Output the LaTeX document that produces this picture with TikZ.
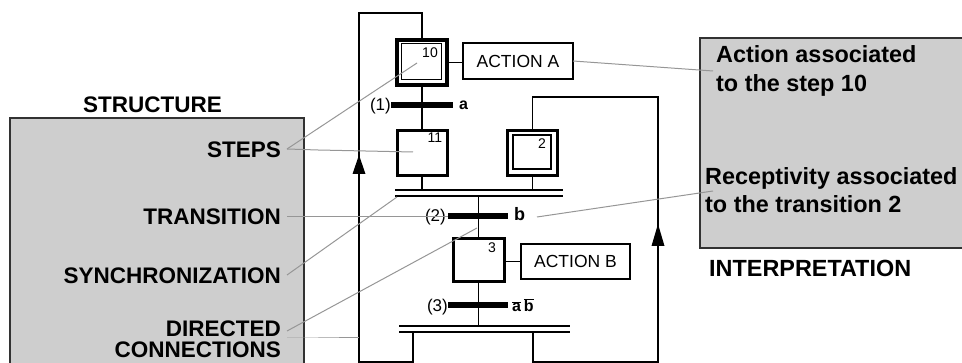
\documentclass[tikz,border=0pt]{standalone}
\usepackage{fontspec}
\setmainfont{Liberation Sans}
\definecolor{boxgray}{RGB}{206,206,206}
\definecolor{leadgray}{RGB}{150,150,150}
\definecolor{edgegray}{RGB}{50,50,50}
\begin{document}
\begin{tikzpicture}[x=1pt,y=-1pt,
  stepbox/.style={draw, line width=3pt, inner sep=0pt, outer sep=0pt, minimum width=50pt, minimum height=45pt},
  innerbox/.style={draw, line width=1.3pt, inner sep=0pt, outer sep=0pt},
  actbox/.style={draw, line width=1.3pt, inner sep=0pt, outer sep=0pt, font=\fontsize{17.5}{17.5}\selectfont},
  trbar/.style={fill=black, inner sep=0pt, outer sep=0pt, minimum width=62pt, minimum height=6pt},
  link/.style={line width=1.4pt},
  leader/.style={draw=leadgray, line width=1pt},
  biglabel/.style={font=\fontsize{22.5}{24}\selectfont\bfseries, inner sep=0pt, anchor=base east},
  rlabel/.style={font=\fontsize{23.4}{24}\selectfont\bfseries, inner sep=0pt, anchor=base west},
  numlabel/.style={font=\fontsize{14}{14}\selectfont, inner sep=0pt, anchor=base},
  trlabel/.style={font=\fontsize{17}{17}\selectfont, inner sep=0pt},
  arrowtri/.style={fill=black}
]
\useasboundingbox (0,0) rectangle (962,363);

% gray panels
\fill[boxgray] (10,118) rectangle (304,366);
\draw[edgegray, line width=1.3pt] (10,366) -- (10,118) -- (304,118) -- (304,366);
\fill[boxgray] (700,38) rectangle (966,248);
\draw[edgegray, line width=1.3pt] (966,38) -- (700,38) -- (700,248) -- (966,248);

% steps
\node[stepbox, line width=4pt] (s10) at (422,62.5) {};
\node[innerbox, minimum width=40pt, minimum height=36pt] (s10i) at (421.5,61.5) {};
\node[numlabel] (n10) at (430,58) {10};
\node[stepbox] (s11) at (422,153) {};
\node[numlabel] (n11) at (435,143) {11};
\node[stepbox] (s2) at (532.5,153) {};
\node[innerbox, minimum width=38pt, minimum height=34pt] (s2i) at (532,152) {};
\node[numlabel] (n2) at (542,149) {2};
\node[stepbox, minimum width=51pt, minimum height=43pt] (s3) at (478.5,260) {};
\node[numlabel] (n3) at (492,253) {3};

% actions
\node[actbox, minimum width=110pt, minimum height=36pt] (actA) at (518,61) {ACTION A};
\node[actbox, minimum width=109pt, minimum height=35pt] (actB) at (575.5,261.5) {ACTION B};
\draw[link] (s10.east) -- (s10.east -| actA.west);
\draw[link] (s3.east |- actB.west) -- (actB.west);

% transitions
\node[trbar] (t1) at (422,105) {};
\node[trbar, minimum width=60pt] (t2) at (478,216) {};
\node[trbar, minimum width=60pt] (t3) at (478,305) {};
\node[trlabel, anchor=east] (l1) at (391,106) {(1)};
\node[trlabel, anchor=west, font=\fontsize{16}{16}\selectfont\bfseries] (la) at (459,105) {a};
\node[trlabel, anchor=east] (l2) at (446,217) {(2)};
\node[trlabel, anchor=west, font=\fontsize{18}{18}\selectfont\bfseries] (lb) at (514,214) {b};
\node[trlabel, anchor=east] (l3) at (448,307) {(3)};
\node[trlabel, anchor=west, font=\fontsize{16}{16}\selectfont\bfseries] (lab) at (512,305) {$\overline{\mbox{a}}\,\overline{\mbox{b}}$};

% synchronisation double lines
\coordinate (syncUL) at (395,190);
\coordinate (syncUR) at (563,190);
\coordinate (syncDL) at (395,196);
\coordinate (syncDR) at (563,196);
\coordinate (syncLUL) at (399,326);
\coordinate (syncLUR) at (570,326);
\coordinate (syncLDL) at (399,332);
\coordinate (syncLDR) at (570,332);
\draw[link] (syncUL) -- (syncUR);
\draw[link] (syncDL) -- (syncDR);
\draw[link] (syncLUL) -- (syncLUR);
\draw[link] (syncLDL) -- (syncLDR);

% vertical links
\draw[link] (s10.south) -- (s11.north);
\draw[link] (s11.south) -- (s11.south |- syncUL);
\draw[link] (s2.south) -- (s2.south |- syncUL);
\draw[link] (s3.north |- syncDL) -- (s3.north);
\draw[link] (s3.south) -- (s3.south |- syncLUL);

% loops
\coordinate (lb1) at (413,362);
\coordinate (lb2) at (359,362);
\coordinate (lt1) at (359,13);
\coordinate (lt2) at (422,13);
\draw[link] (lb1 |- syncLDL) -- (lb1) -- (lb2) -- (lt1) -- (lt2) -- (s10.north);
\fill[arrowtri] (359,155) -- (352.5,174) -- (365.5,174) -- cycle;
\coordinate (rb1) at (533,362);
\coordinate (rb2) at (658,362);
\coordinate (rt1) at (658,97);
\coordinate (rt2) at (532.5,97);
\draw[link] (rb1 |- syncLDL) -- (rb1) -- (rb2) -- (rt1) -- (rt2) -- (s2.north);
\fill[arrowtri] (658,224) -- (651.5,246) -- (664.5,246) -- cycle;

% left labels
\node[font=\fontsize{22.5}{24}\selectfont\bfseries, inner sep=0pt, anchor=base] (structure) at (152.5,113) {STRUCTURE};
\node[biglabel] (steps) at (281,158) {STEPS};
\node[biglabel] (transition) at (281,225) {TRANSITION};
\node[biglabel] (synchro) at (281,284) {SYNCHRONIZATION};
\node[biglabel] (directed) at (281,337) {DIRECTED};
\node[biglabel] (connections) at (281,358) {CONNECTIONS};

% right labels
\node[rlabel] (actassoc) at (716,63) {Action associated};
\node[rlabel] (actassoc2) at (716,92) {to the step 10};
\node[rlabel] (recassoc) at (705,185) {Receptivity associated};
\node[rlabel] (recassoc2) at (705,213) {to the transition 2};
\node[rlabel] (interp) at (709,277) {INTERPRETATION};

% leaders
\coordinate (stepsE) at (287,149);
\draw[leader] (stepsE) -- (417,63);
\draw[leader] (stepsE) -- (318,150) -- (413,152);
\draw[leader] (287,217) -- (448,217);
\draw[leader] (287,275) -- (397,197);
\draw[leader] (287,331) -- (477,228);
\draw[leader] (287,338) -- (318,338) -- (359,338);
\draw[leader] (actA.east) -- (713,71);
\draw[leader] (537,217) -- (713,191);
\end{tikzpicture}
\end{document}
